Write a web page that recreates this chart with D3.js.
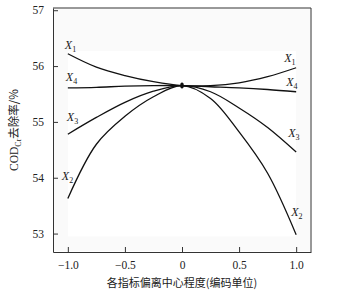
<!DOCTYPE html>
<html>
<head>
<meta charset="utf-8">
<script src="https://cdn.jsdelivr.net/npm/d3@7"></script>
<style>
body{margin:0;background:#fff;}
text{font-family:"Liberation Serif","DejaVu Serif",serif;fill:#222;}
.cn{font-family:"Noto Sans CJK SC",sans-serif;}
</style>
</head>
<body>
<div class="visualisation"></div>
<script>
//DATA
var xCoded = [-1, -0.75, -0.5, -0.25, 0, 0.25, 0.5, 0.75, 1];
var seriesNames = ["1", "2", "3", "4"];
var x1Values = [56.22, 55.98, 55.83, 55.72, 55.65, 55.65, 55.70, 55.81, 55.97];
var x2Values = [53.63, 54.60, 55.10, 55.45, 55.65, 55.42, 54.82, 54.08, 52.98];
var x3Values = [54.78, 55.08, 55.35, 55.55, 55.65, 55.54, 55.25, 54.90, 54.46];
var x4Values = [55.61, 55.62, 55.64, 55.65, 55.65, 55.63, 55.61, 55.58, 55.54];
var xTicks = [-1, -0.5, 0, 0.5, 1];
var yTicks = [53, 54, 55, 56, 57];
var xTitle = "各指标偏离中心程度(编码单位)";

//CANVAS
var W = 345, H = 297;
var dim = {left: 53, top: 8, right: 311, bottom: 252};

var svg = d3.select(".visualisation").append("svg")
    .attr("width", W)
    .attr("height", H);

var x = d3.scaleLinear().domain([-1.13, 1.13]).range([dim.left, dim.right]);
var y = d3.scaleLinear().domain([52.67, 57.04]).range([dim.bottom, dim.top]);

// faint inner panel like the scan
svg.append("rect")
    .attr("x", dim.left + 1).attr("y", dim.top + 1)
    .attr("width", dim.right - dim.left - 2).attr("height", dim.bottom - dim.top - 2)
    .attr("fill", "#fafafa");
svg.append("rect")
    .attr("x", x(-1)).attr("y", y(56.27))
    .attr("width", x(1) - x(-1)).attr("height", y(52.95) - y(56.27))
    .attr("fill", "#fff");

//AXES
var xAxis = svg.append("g")
    .attr("transform", "translate(0," + dim.bottom + ")")
    .call(d3.axisBottom(x).tickValues(xTicks).tickSizeInner(-5).tickSizeOuter(0)
        .tickFormat(function(d){ return d === 0 ? "0" : d3.format(".1f")(d).replace("-", "\u2212"); }));
xAxis.selectAll("text").attr("y", 9).attr("font-size", 11.5);

var yAxis = svg.append("g")
    .attr("transform", "translate(" + dim.left + ",0)")
    .call(d3.axisLeft(y).tickValues(yTicks).tickSizeInner(-5).tickSizeOuter(0).tickFormat(d3.format("d")));
yAxis.selectAll("text").attr("x", -9).attr("font-size", 11.5);

svg.selectAll(".domain").attr("stroke", "#333");
svg.selectAll(".tick line").attr("stroke", "#333");
svg.selectAll(".tick text").style("font-family", "'Liberation Serif',serif").attr("fill", "#222");

// box top and right
svg.append("path")
    .attr("d", "M" + dim.left + "," + dim.top + "H" + dim.right + "V" + dim.bottom)
    .attr("fill", "none").attr("stroke", "#333");

//CURVES
var allSeries = [x1Values, x2Values, x3Values, x4Values];
var line = d3.line()
    .x(function(d, i){ return x(xCoded[i]); })
    .y(function(d){ return y(d); })
    .curve(d3.curveCatmullRom.alpha(0.5));

svg.selectAll(".curve").data(allSeries).enter().append("path")
    .attr("class", "curve")
    .attr("d", line)
    .attr("fill", "none")
    .attr("stroke", "#111")
    .attr("stroke-width", 1.3);

// centre point
svg.append("ellipse")
    .attr("cx", x(0)).attr("cy", y(x1Values[4]))
    .attr("rx", 1.8).attr("ry", 3)
    .attr("fill", "#111");

//SERIES LABELS (order X1, X2, X3, X4)
function seriesLabel(px, py, sub){
    var t = svg.append("text").attr("x", px).attr("y", py).attr("font-size", 12);
    t.append("tspan").attr("font-style", "italic").text("X");
    t.append("tspan").attr("dy", 3).attr("font-size", 8).text(sub);
}
var leftDx = [-3, -6, -1, -2], leftDy = [-5, -18, -13, -7];
var rightDx = [-12, -5, -8, -10], rightDy = [-6, -19, -15, -6];
allSeries.forEach(function(vals, i){
    seriesLabel(x(-1) + leftDx[i], y(vals[0]) + leftDy[i], seriesNames[i]);
    seriesLabel(x(1) + rightDx[i], y(vals[vals.length - 1]) + rightDy[i], seriesNames[i]);
});

//TITLES
svg.append("text")
    .attr("class", "cn")
    .attr("x", x(0)).attr("y", 287)
    .attr("text-anchor", "middle")
    .attr("font-size", 11)
    .text(xTitle);

var yt = svg.append("text")
    .attr("transform", "translate(18," + ((dim.top + dim.bottom) / 2) + ") rotate(-90)")
    .attr("text-anchor", "middle")
    .attr("font-size", 11.5);
yt.append("tspan").text("COD");
yt.append("tspan").attr("dy", 3).attr("font-size", 8).text("Cr");
yt.append("tspan").attr("dy", -3).attr("class", "cn").text("去除率/%");
</script>
</body>
</html>
